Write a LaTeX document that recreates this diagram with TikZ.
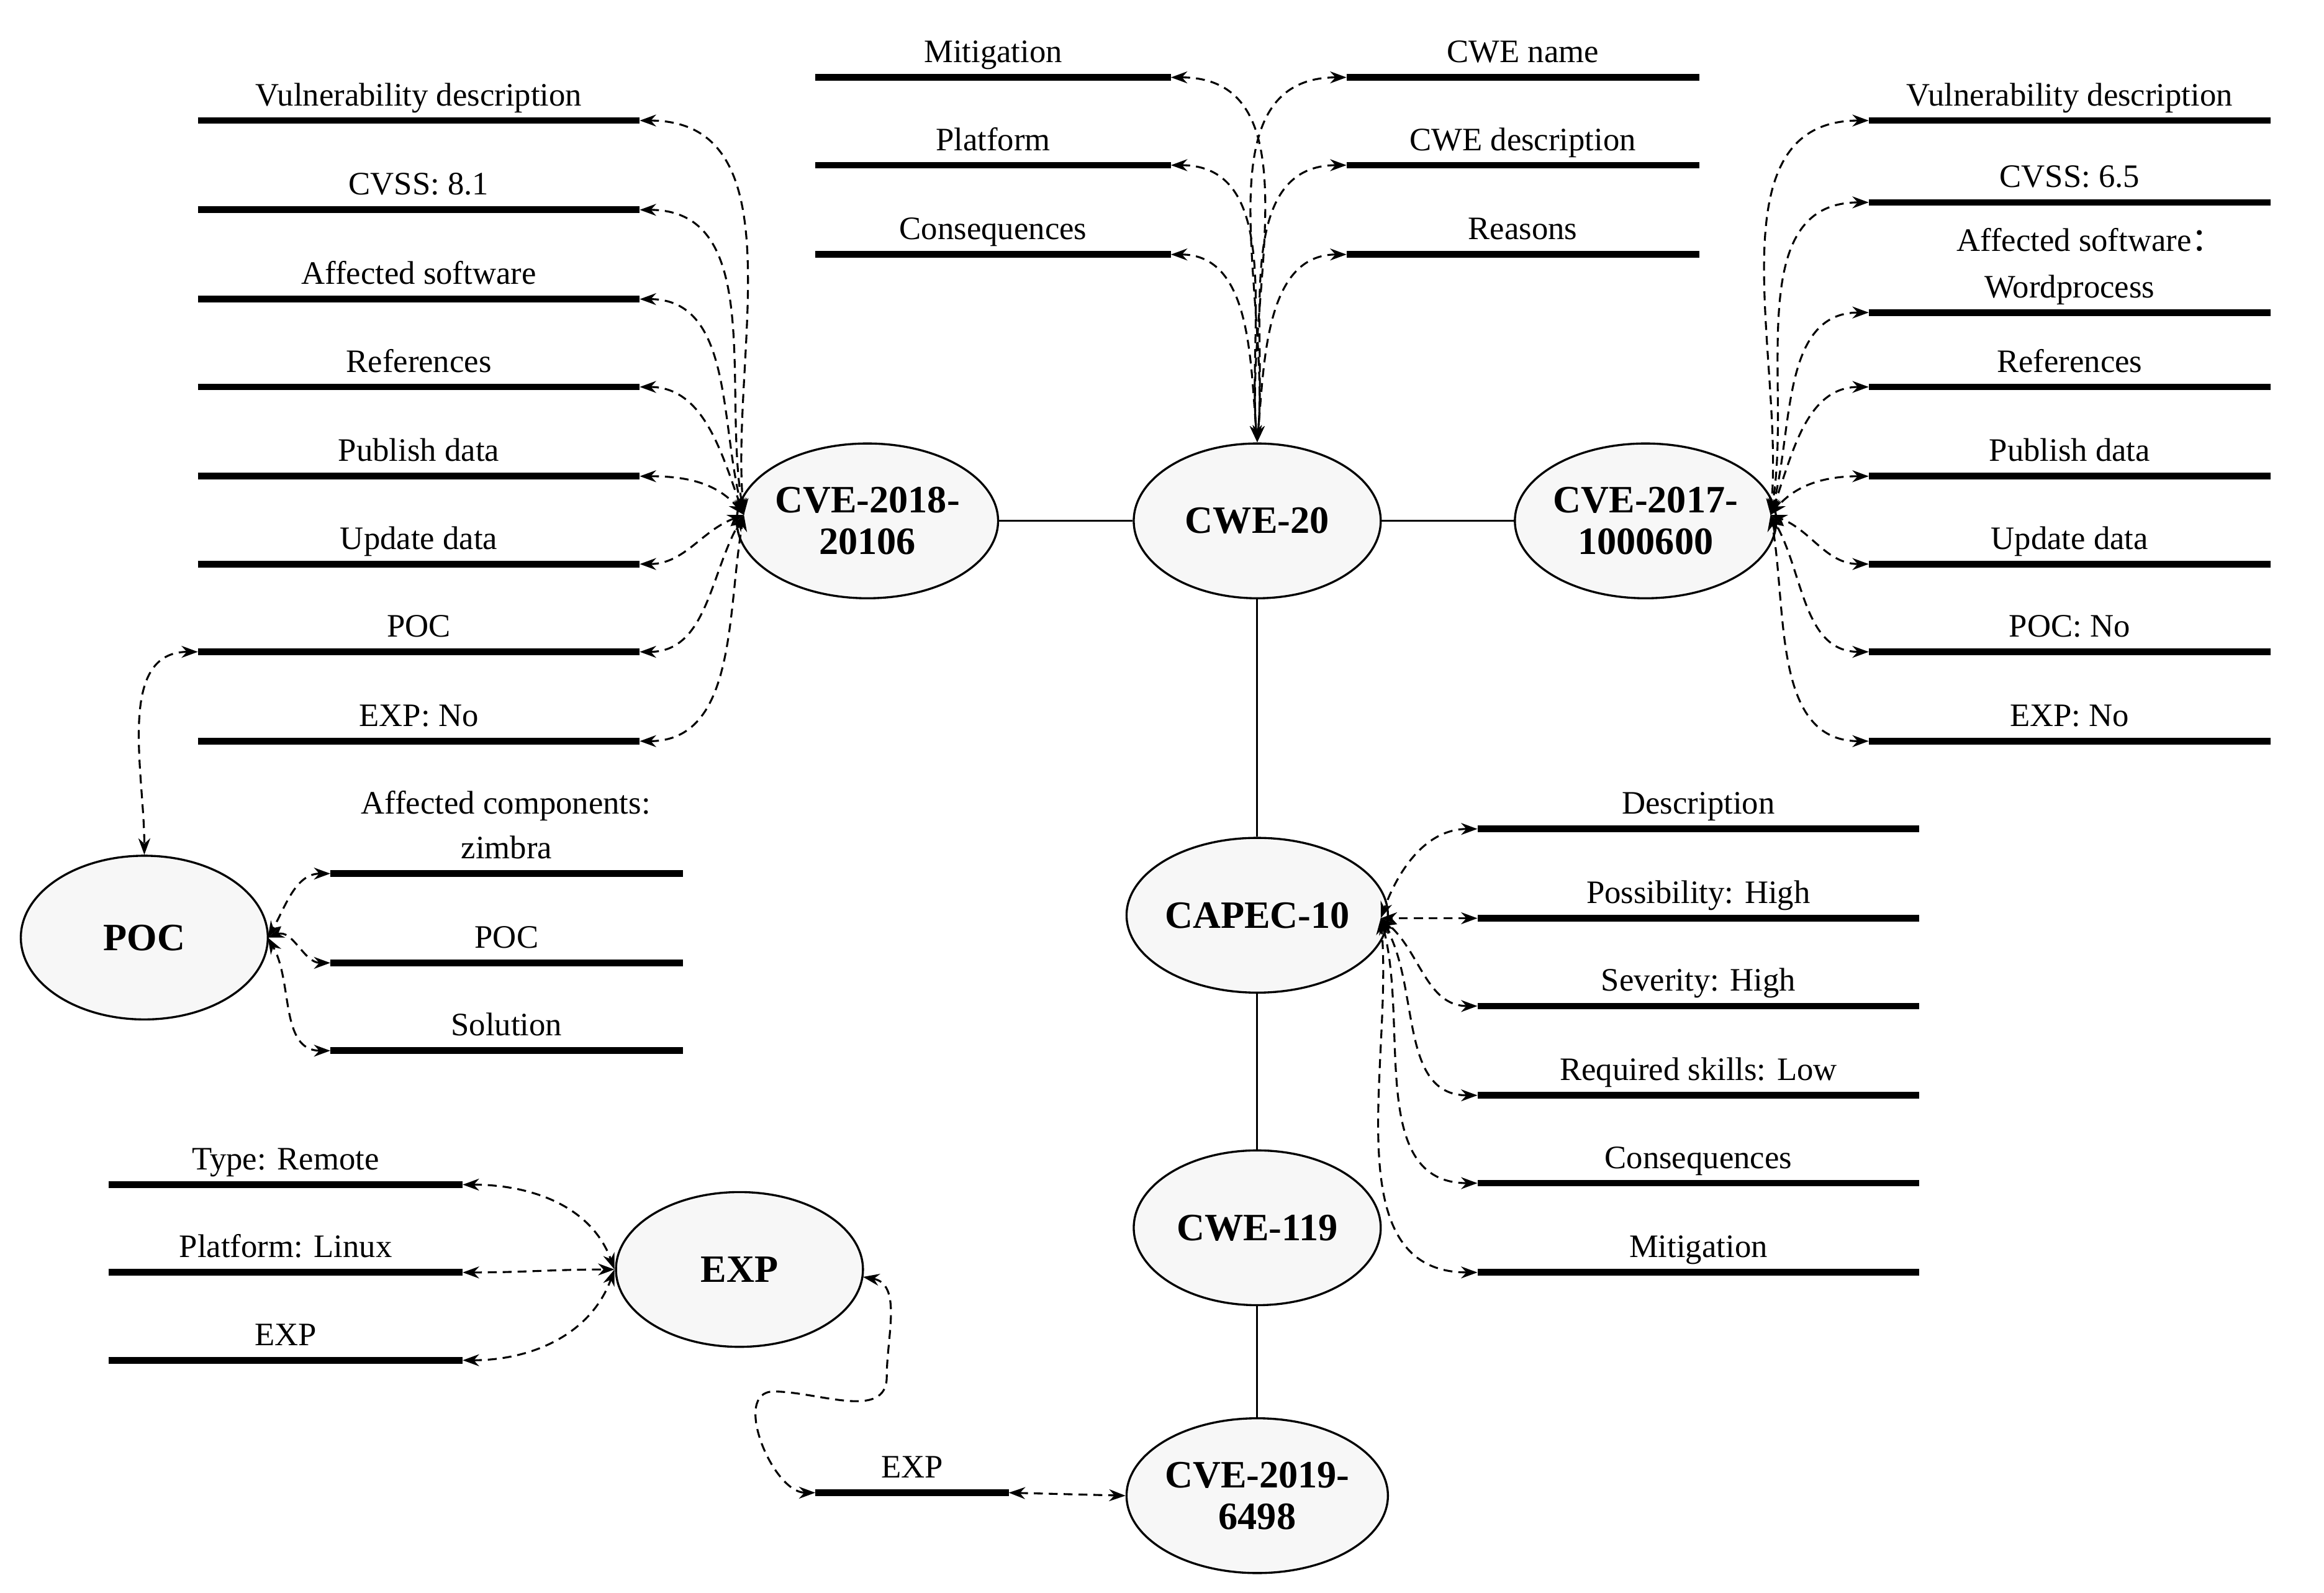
\documentclass[tikz,border=0pt]{standalone}
\usepackage{fontspec}
\setmainfont{Liberation Serif}
\newfontfamily\cjk{Noto Sans CJK SC}
\usetikzlibrary{shapes.geometric,arrows.meta}
\begin{document}
\begin{tikzpicture}[x=1pt,y=-1pt,
  ell/.style={ellipse,draw,line width=1.4pt,fill=gray!6,minimum width=166,minimum height=104,inner sep=0pt,align=center,font=\fontsize{26}{28}\selectfont\bfseries},
  lab/.style={font=\fontsize{22}{24}\selectfont,anchor=base,align=center},
  barl/.style={line width=4.5pt},
  con/.style={dashed,dash pattern=on 6pt off 4pt,line width=1.3pt,{Stealth[length=11pt,width=8pt]}-{Stealth[length=11pt,width=8pt]}},
  sol/.style={line width=1.2pt}]
\useasboundingbox (0,0) rectangle (1562,1070);
\newcommand{\hbarline}[5]{%
  \coordinate (#1a) at (#2,#4); \coordinate (#1b) at (#3,#4);
  \draw[barl] (#1a) -- (#1b);
  \node[lab] (#1t) at ({(#2+#3)/2},#4-10) {#5};}
% ellipses
\node[ell] (c18) at (583,350) {CVE-2018-\\20106};
\node[ell] (cwe20) at (845,350) {CWE-20};
\node[ell] (c17) at (1106,350) {CVE-2017-\\1000600};
\node[ell] (capec) at (845,615) {CAPEC-10};
\node[ell] (cwe119) at (845,825) {CWE-119};
\node[ell] (c19) at (845,1005) {CVE-2019-\\6498};
\node[ell,minimum height=110] (poc) at (97,630) {POC};
\node[ell] (exp) at (497,853) {EXP};
\draw[sol] (c18) -- (cwe20); \draw[sol] (cwe20) -- (c17);
\draw[sol] (cwe20) -- (capec); \draw[sol] (capec) -- (cwe119); \draw[sol] (cwe119) -- (c19);
% left column
\hbarline{L1}{133}{430}{81}{Vulnerability description}
\hbarline{L2}{133}{430}{141}{CVSS: 8.1}
\hbarline{L3}{133}{430}{201}{Affected software}
\hbarline{L4}{133}{430}{260}{References}
\hbarline{L5}{133}{430}{320}{Publish data}
\hbarline{L6}{133}{430}{379}{Update data}
\hbarline{L7}{133}{430}{438}{POC}
\hbarline{L8}{133}{430}{498}{EXP: No}
\coordinate (c18w) at (500,346);
\foreach \i/\a in {1/95,2/100,3/105,4/110,5/130,6/200,7/240,8/260}
  \draw[con] (L\i b) to[out=0,in=\a] (c18w);
% top
\hbarline{T1}{548}{787}{52}{Mitigation}
\hbarline{T2}{548}{787}{111}{Platform}
\hbarline{T3}{548}{787}{171}{Consequences}
\hbarline{U1}{905}{1142}{52}{CWE name}
\hbarline{U2}{905}{1142}{111}{CWE description}
\hbarline{U3}{905}{1142}{171}{Reasons}
\coordinate (cwen) at (845,297);
\foreach \n in {T1,T2,T3} \draw[con] (\n b) to[out=0,in=95] (cwen);
\foreach \n in {U1,U2,U3} \draw[con] (\n a) to[out=180,in=85] (cwen);
% right column
\hbarline{R1}{1256}{1526}{81}{Vulnerability description}
\hbarline{R2}{1256}{1526}{136}{CVSS: 6.5}
\hbarline{R3}{1256}{1526}{210}{Wordprocess}
\node[lab] (R3s) at (1405,169) {Affected software{\cjk ：}};
\hbarline{R4}{1256}{1526}{260}{References}
\hbarline{R5}{1256}{1526}{320}{Publish data}
\hbarline{R6}{1256}{1526}{379}{Update data}
\hbarline{R7}{1256}{1526}{438}{POC: No}
\hbarline{R8}{1256}{1526}{498}{EXP: No}
\coordinate (c17e) at (1190,346);
\foreach \i/\a in {1/85,2/80,3/75,4/70,5/50,6/-20,7/-60,8/-80}
  \draw[con] (R\i a) to[out=180,in=\a] (c17e);
% POC
\hbarline{P1}{222}{459}{587}{zimbra}
\node[lab] (P1s) at (340,547) {Affected components:};
\hbarline{P2}{222}{459}{647}{POC}
\hbarline{P3}{222}{459}{706}{Solution}
\draw[con] (L7a) to[out=180,in=90] (poc.north);
\coordinate (poce) at (180,630);
\foreach \i/\a in {1/60,2/20,3/-60} \draw[con] (P\i a) to[out=180,in=\a] (poce);
% CAPEC
\hbarline{C1}{993}{1290}{557}{Description}
\hbarline{C2}{993}{1290}{617}{Possibility: High}
\hbarline{C3}{993}{1290}{676}{Severity: High}
\hbarline{C4}{993}{1290}{736}{Required skills: Low}
\hbarline{C5}{993}{1290}{795}{Consequences}
\hbarline{C6}{993}{1290}{855}{Mitigation}
\coordinate (cape) at (928,617);
\foreach \i/\a in {1/70,2/0,3/-40,4/-60,5/-75,6/-85} \draw[con] (C\i a) to[out=180,in=\a] (cape);
% EXP
\hbarline{E1}{73}{311}{796}{Type: Remote}
\hbarline{E2}{73}{311}{855}{Platform: Linux}
\hbarline{E3}{73}{311}{914}{EXP}
\coordinate (expw) at (413,853);
\foreach \i/\a in {1/110,2/180,3/250} \draw[con] (E\i b) to[out=0,in=\a] (expw);
\hbarline{S1}{548}{678}{1003}{EXP}
\coordinate (expne) at (580,858);
\draw[con] (expne) to[out=-10,in=90] (596,925) to[out=-90,in=0] (520,935) to[out=180,in=180] (S1a);
\draw[con] (S1b) -- (c19.west);
\end{tikzpicture}
\end{document}
